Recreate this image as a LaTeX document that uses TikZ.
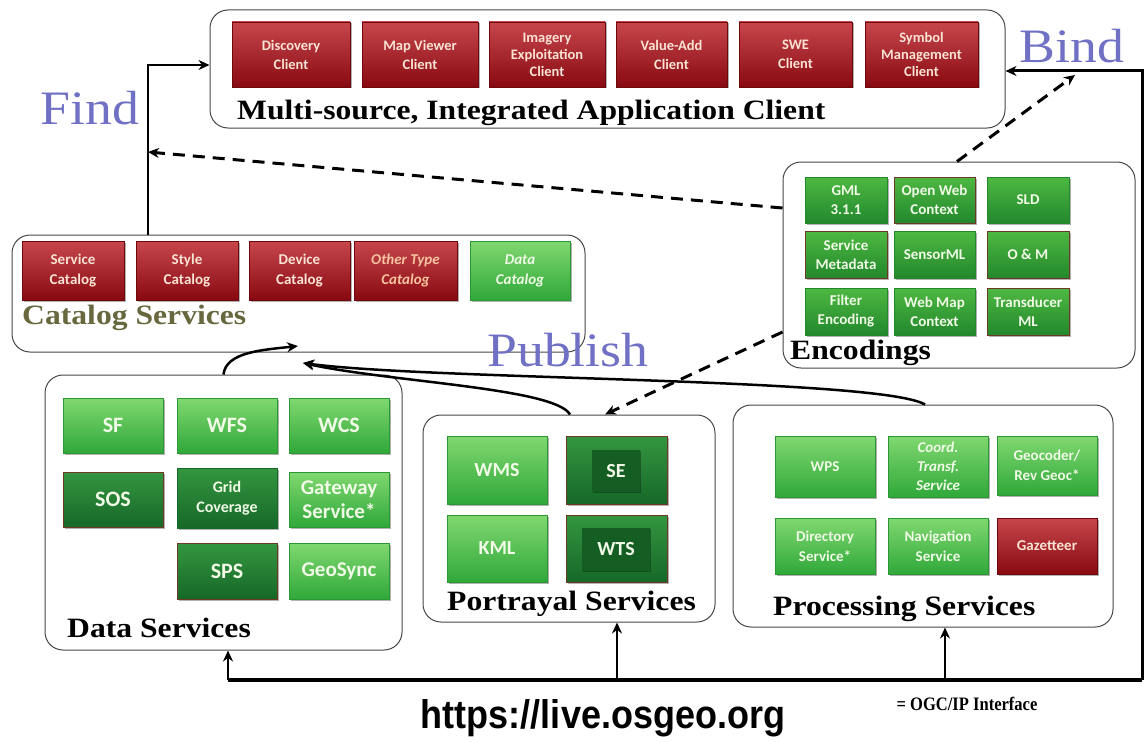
\documentclass[tikz,border=0pt]{standalone}
\usepackage{fontspec}
\setmainfont{Liberation Serif}
\newfontfamily\boxfont{Carlito}
\newfontfamily\urlfont{Liberation Sans}
\usetikzlibrary{arrows.meta,shadows}
\definecolor{redtop}{RGB}{198,70,76}
\definecolor{redbot}{RGB}{136,10,16}
\definecolor{redtxt}{RGB}{250,226,212}
\definecolor{lgtop}{RGB}{128,216,112}
\definecolor{lgbot}{RGB}{48,168,58}
\definecolor{dgtop}{RGB}{52,150,64}
\definecolor{dgbot}{RGB}{22,104,40}
\definecolor{egtop}{RGB}{78,184,66}
\definecolor{egbot}{RGB}{34,136,44}
\definecolor{brownb}{RGB}{110,56,36}
\definecolor{grntxt}{RGB}{240,250,230}
\definecolor{wordblue}{RGB}{112,112,196}
\definecolor{olive}{RGB}{104,104,62}
\definecolor{frame}{RGB}{70,70,70}
\definecolor{othertxt}{RGB}{246,196,160}
\newcommand\fsz[1]{\fontsize{#1}{#1}\selectfont}
\newcommand\ttl[1]{\scalebox{1.13}[1]{#1}}
\newcommand\mybox[7]{\node[#1, minimum width={(#5)-(#3)}, minimum height={(#6)-(#4)}] (#2) at ({((#3)+(#5))/2},{((#4)+(#6))/2}) {#7};}
\begin{document}
\begin{tikzpicture}[x=1pt,y=-1pt,
  fs/.style n args={2}{font=\boxfont\bfseries\fontsize{#1}{#2}\selectfont},
  fsi/.style n args={2}{font=\boxfont\bfseries\itshape\fontsize{#1}{#2}\selectfont},
  bx/.style={inner sep=1pt, align=center, line width=0.6pt, fs={14.5}{19},
    drop shadow={shadow xshift=1.5pt, shadow yshift=-1.5pt, opacity=0.3, fill=black}},
  redbx/.style={bx, top color=redtop, bottom color=redbot, draw=redbot!80!black, text=redtxt},
  lgbx/.style={bx, top color=lgtop, bottom color=lgbot, draw=lgbot!90!black, text=grntxt},
  dgbx/.style={bx, top color=dgtop, bottom color=dgbot, draw=brownb, text=grntxt},
  egbx/.style={bx, top color=egtop, bottom color=egbot, draw=egbot, text=grntxt},
  ebbx/.style={egbx, draw=brownb},
  innerbx/.style={inner sep=0pt, align=center, fill=dgbot!90!black, fs={20}{20}, text=grntxt,
    drop shadow={shadow xshift=1pt, shadow yshift=-1pt, opacity=0.3, fill=black}},
  container/.style={draw=frame, line width=1pt, rounded corners=18pt, inner sep=0pt},
  ttlf/.style={inner sep=0pt, anchor=base west, font=\bfseries\fsz{28}},
  word/.style={inner sep=0pt, text=wordblue, font=\fsz{48}},
  conn/.style={line width=2.5pt, -{Stealth[length=11pt,width=10pt]}},
  dconn/.style={line width=3pt, dash pattern=on 12pt off 8pt, -{Stealth[length=11pt,width=10pt]}}
]
\useasboundingbox (0,0) rectangle (1147,741);

% ---------- containers ----------
\mybox{container}{client}{210}{10}{1005}{128}{}
\mybox{container}{cat}{12}{235}{585}{352}{}
\mybox{container}{enc}{783}{162}{1135}{368}{}
\mybox{container}{data}{45}{375}{402}{650}{}
\mybox{container}{port}{423}{415}{715}{622}{}
\mybox{container}{proc}{733}{405}{1113}{627}{}

% ---------- client ----------
\mybox{redbx}{c1}{232}{22}{350}{87}{Discovery\\Client}
\mybox{redbx}{c2}{362}{22}{478}{87}{Map Viewer\\Client}
\mybox{redbx,fs={14.5}{17}}{c3}{489}{22}{605}{87}{Imagery\\Exploitation\\Client}
\mybox{redbx}{c4}{616}{22}{727}{87}{Value-Add\\Client}
\mybox{redbx}{c5}{739}{22}{852}{87}{SWE\\Client}
\mybox{redbx,fs={14.5}{17}}{c6}{865}{22}{978}{87}{Symbol\\Management\\Client}
\node[ttlf] (clientt) at (237,119) {\ttl{Multi-source, Integrated Application Client}};

% ---------- catalog ----------
\mybox{redbx,fs={15}{20}}{cat1}{22}{241}{124}{300}{Service\\Catalog}
\mybox{redbx,fs={15}{20}}{cat2}{136}{241}{238}{300}{Style\\Catalog}
\mybox{redbx,fs={15}{20}}{cat3}{249}{241}{350}{300}{Device\\Catalog}
\mybox{redbx,fsi={15}{20},text=othertxt}{cat4}{354}{241}{457}{300}{Other Type\\Catalog}
\mybox{lgbx,fsi={15}{20}}{cat5}{470}{241}{570}{300}{Data\\Catalog}
\node[ttlf, text=olive] (catt) at (22,324) {\ttl{Catalog Services}};

% ---------- encodings ----------
\mybox{egbx,fs={15}{19}}{e1}{805}{177}{887}{223}{GML\\3.1.1}
\mybox{ebbx,fs={15}{19}}{e2}{894}{177}{975}{223}{Open Web\\Context}
\mybox{egbx,fs={15}{19}}{e3}{987}{177}{1069}{223}{SLD}
\mybox{ebbx,fs={15}{19}}{e4}{805}{231}{887}{278}{Service\\Metadata}
\mybox{egbx,fs={15}{19}}{e5}{894}{231}{975}{278}{SensorML}
\mybox{ebbx,fs={15}{19}}{e6}{987}{231}{1069}{278}{O \& M}
\mybox{egbx,fs={15}{19}}{e7}{805}{288}{887}{335}{Filter\\Encoding}
\mybox{egbx,fs={15}{19}}{e8}{894}{288}{975}{335}{Web Map\\Context}
\mybox{ebbx,fs={15}{19}}{e9}{987}{288}{1069}{335}{Transducer\\ML}
\node[ttlf] (enct) at (790,359) {\ttl{Encodings}};

% ---------- data services ----------
\mybox{lgbx,fs={22}{22}}{d1}{63}{398}{163}{453}{SF}
\mybox{lgbx,fs={22}{22}}{d2}{177}{398}{277}{453}{WFS}
\mybox{lgbx,fs={22}{22}}{d3}{289}{398}{389}{453}{WCS}
\mybox{dgbx,fs={22}{22}}{d4}{63}{472}{163}{527}{SOS}
\mybox{dgbx,fs={16}{20},draw=dgbot}{d5}{177}{468}{277}{528}{Grid\\Coverage}
\mybox{lgbx,fs={21}{24}}{d6}{289}{472}{389}{527}{Gateway\\Service*}
\mybox{dgbx,fs={22}{22}}{d7}{177}{543}{277}{599}{SPS}
\mybox{lgbx,fs={21}{21}}{d8}{289}{543}{389}{599}{GeoSync}
\node[ttlf] (datat) at (67,637) {\ttl{Data Services}};

% ---------- portrayal ----------
\mybox{lgbx,fs={20}{20}}{p1}{447}{436}{547}{504}{WMS}
\mybox{dgbx}{p2}{566}{436}{667}{504}{}
\mybox{innerbx}{p2i}{592}{450}{640}{492}{SE}
\mybox{lgbx,fs={20}{20}}{p3}{447}{515}{547}{582}{KML}
\mybox{dgbx}{p4}{566}{515}{667}{582}{}
\mybox{innerbx}{p4i}{582}{528}{650}{571}{WTS}
\node[ttlf] (portt) at (447,610) {\ttl{Portrayal Services}};

% ---------- processing ----------
\mybox{lgbx,fs={15}{15}}{q1}{775}{436}{875}{497}{WPS}
\mybox{lgbx,fsi={15}{19}}{q2}{888}{436}{988}{497}{Coord.\\Transf.\\Service}
\mybox{lgbx,fs={15}{20}}{q3}{997}{436}{1097}{495}{Geocoder/\\Rev Geoc*}
\mybox{lgbx,fs={15}{20}}{q4}{775}{518}{875}{574}{Directory\\Service*}
\mybox{lgbx,fs={15}{20}}{q5}{888}{518}{988}{574}{Navigation\\Service}
\mybox{redbx,fs={15}{15}}{q6}{997}{518}{1097}{574}{Gazetteer}
\node[ttlf] (proct) at (773,615) {\ttl{Processing Services}};

% ---------- words ----------
\node[word] (find) at (90,108) {\scalebox{1.12}[1]{Find}};
\node[word] (bind) at (1072,46) {\scalebox{1.12}[1]{Bind}};
\node[word] (publish) at (568,350) {\scalebox{1.12}[1]{Publish}};

% ---------- connectors ----------
\coordinate (fc) at (148,65);
\coordinate (fd) at (148,152);
\coordinate (ed) at (783,208);
\draw[conn] (cat.north -| fc) -- (fc) -- (fc -| client.west);
\draw[dconn] (enc.west |- ed) -- (fd);

\coordinate (bl) at (228,680);
\coordinate (br) at (1142,680);
\coordinate (tr) at (1142,71);
\coordinate (pu) at (617,680);
\coordinate (qu) at (945,680);
\draw[line width=4pt] (bl) -- (br);
\draw[line width=3pt, -{Stealth[length=11pt,width=10pt]}] (br) -- (tr) -- (tr -| client.east);
\draw[conn] (bl) -- (bl |- data.south);
\draw[conn] (pu) -- (pu |- port.south);
\draw[conn] (qu) -- (qu |- proc.south);

\coordinate (ebx) at (957,0);
\coordinate (bd) at (1075,75);
\draw[dconn] (enc.north -| ebx) -- (bd);
\coordinate (epy) at (0,332);
\coordinate (pdx) at (605,0);
\draw[dconn] (enc.west |- epy) -- (port.north -| pdx);

\coordinate (pa1) at (298,346);
\coordinate (pa2) at (303,363);
\coordinate (px) at (570,0);
\coordinate (qx) at (925,0);
\draw[conn] (data.north) .. controls (226,352) and (262,350) .. (pa1);
\draw[conn] (port.north -| px) .. controls (555,388) and (390,382) .. (pa2);
\draw[conn] (proc.north -| qx) .. controls (880,378) and (430,380) .. (pa2);

% ---------- footer ----------
\node[inner sep=0pt, font=\urlfont\bfseries\fsz{40}] (url) at (603,718) {\scalebox{0.9}[1]{https://live.osgeo.org}};
\node[inner sep=0pt, font=\bfseries\fsz{19}] (legend) at (967,704) {\scalebox{0.87}[1]{= OGC/IP Interface}};
\end{tikzpicture}
\end{document}
